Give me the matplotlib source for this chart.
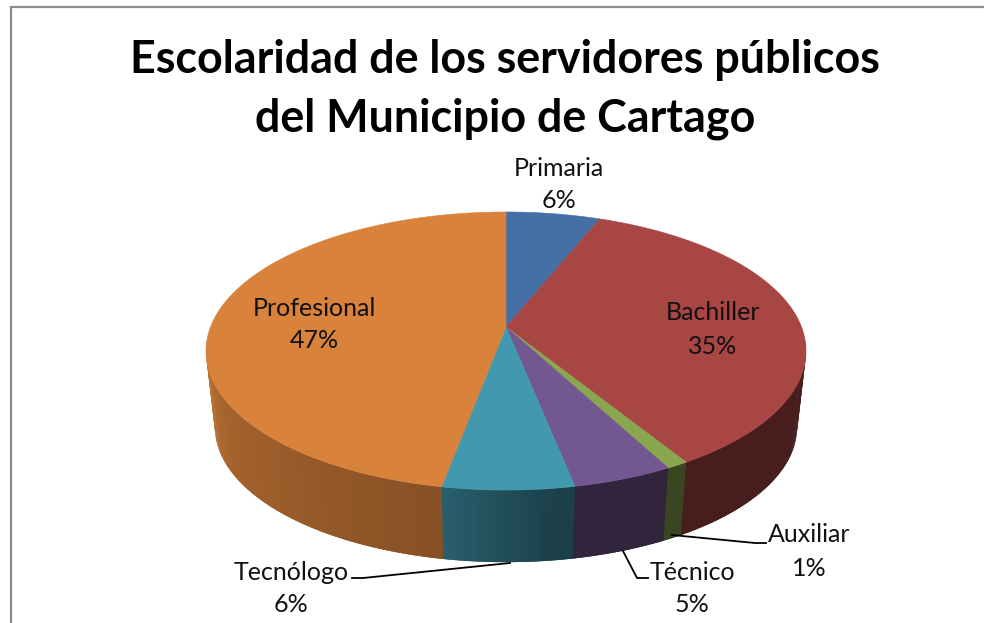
import numpy as np
import matplotlib
matplotlib.use("Agg")
import matplotlib.pyplot as plt
from matplotlib.patches import Polygon

title_lines = ["Escolaridad de los servidores públicos", "del Municipio de Cartago"]
categories = ["Primaria", "Bachiller", "Auxiliar", "Técnico", "Tecnólogo", "Profesional"]
values = [6.0, 35.3, 1.0, 4.6, 6.0, 47.1]
colors = ["#4470A5", "#A84644", "#8AA64F", "#735791", "#4198AF", "#D9823B"]

# label centres (px) per category
label_pos = [(559, 168), (713, 313), (809, 535), (692, 572), (291, 572), (314, 308)]
leaders = {2: [(672, 535), (755, 543), (766, 543)],
           3: [(623, 551), (637, 578), (648, 578)],
           4: [(510, 563), (363, 578), (352, 578)]}

W, H = 984, 623
fig = plt.figure(figsize=(W / 100, H / 100), dpi=100)
ax = fig.add_axes([0, 0, 1, 1])
ax.set_xlim(0, W)
ax.set_ylim(H, 0)
ax.axis("off")
FONT = "Lato"

# chart frame: top and left only are visible
ax.plot([11, 11, W], [H, 7, 7], color="#8c8c8c", lw=1.6, solid_joinstyle="miter")


def project(t_deg, scale=1.0, apex_y=327.0):
    t = np.radians(t_deg)
    u, v = np.sin(t), np.cos(t)
    c, a, b = 0.1727, 295.5, 134.9
    d = 1 + c * v
    return 506 + scale * a * u / d, apex_y - scale * b * v / d


def side_factor(t):
    return np.interp(t, [90, 172, 190, 240, 262, 270], [.42, .42, .62, .76, .87, .87])


edges = np.concatenate([[0], np.cumsum(values)]) / np.sum(values) * 360

# side wall: strips overlap the next one so that no seams show
T_MIN, T_MAX = 96, 264
for i, col in enumerate(colors):
    lo, hi = max(edges[i], T_MIN), min(edges[i + 1], T_MAX)
    if hi <= lo:
        continue
    steps = np.arange(lo, hi, 0.5).tolist() + [hi]
    base = np.array(matplotlib.colors.to_rgb(col))
    for t0, t1 in zip(steps[:-1], steps[1:]):
        tt = np.array([t0, min(t1 + 0.6, T_MAX)])
        xt, yt = project(tt)
        xb, yb = project(tt, scale=0.97, apex_y=404)
        pts = [(xt[0], yt[0]), (xt[1], yt[1]), (xb[1], yb[1]), (xb[0], yb[0])]
        f = tuple(base * side_factor((t0 + t1) / 2))
        ax.add_patch(Polygon(pts, closed=True, fc=f, ec="none"))

# top face
for i, col in enumerate(colors):
    tt = np.linspace(edges[i], edges[i + 1], 200)
    x, y = project(tt)
    pts = [(506, 327)] + list(zip(x, y))
    ax.add_patch(Polygon(pts, closed=True, fc=col, ec=col, lw=0.4, zorder=3))

# leader lines
for pts in leaders.values():
    xs, ys = zip(*pts)
    ax.plot(xs, ys, color="black", lw=1.3, zorder=4, solid_joinstyle="miter")

# labels
for (x, y), name, val in zip(label_pos, categories, values):
    ax.text(x, y, name, ha="center", va="center", fontsize=18, family=FONT, color="#111111", zorder=5)
    ax.text(x, y + 33, f"{round(val)}%", ha="center", va="center", fontsize=18, family=FONT, color="#111111", zorder=5)

# title
ax.text(505, 60, title_lines[0], ha="center", va="center", fontsize=32.3, family=FONT, weight="bold", color="black")
ax.text(505, 119, title_lines[1], ha="center", va="center", fontsize=32.3, family=FONT, weight="bold", color="black")

fig.savefig("out.png", dpi=100, facecolor="white")
